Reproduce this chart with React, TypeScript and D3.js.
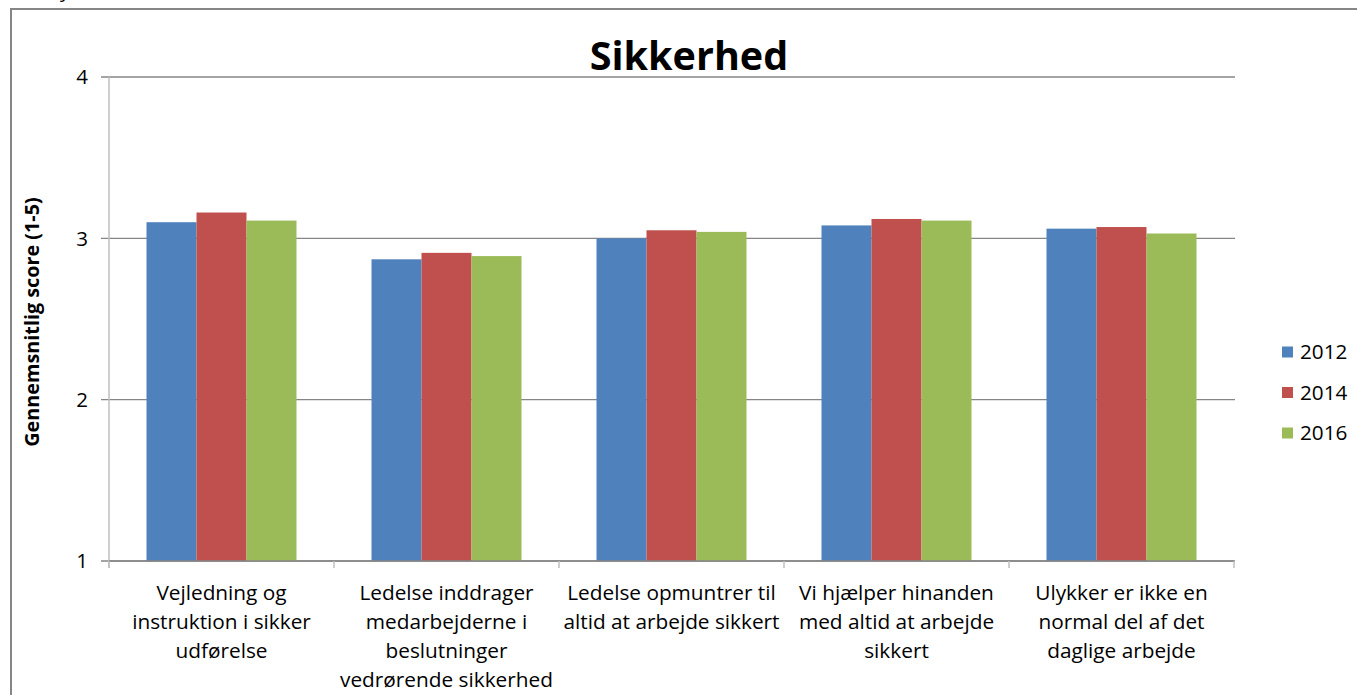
import * as d3 from "d3";

const categories = [
  "Vejledning og\ninstruktion i sikker\nudførelse",
  "Ledelse inddrager\nmedarbejderne i\nbeslutninger\nvedrørende sikkerhed",
  "Ledelse opmuntrer til\naltid at arbejde sikkert",
  "Vi hjælper hinanden\nmed altid at arbejde\nsikkert",
  "Ulykker er ikke en\nnormal del af det\ndaglige arbejde",
];
const years = ["2012", "2014", "2016"];
const values2012 = [3.1, 2.87, 3.0, 3.08, 3.06];
const values2014 = [3.16, 2.91, 3.05, 3.12, 3.07];
const values2016 = [3.11, 2.89, 3.04, 3.11, 3.03];
const yTicks = [1, 2, 3, 4];

const colors = ["#4F81BD", "#C0504D", "#9BBB59"];
const seriesValues = [values2012, values2014, values2016];

const W = 1357;
const H = 695;
const FONT = "'Open Sans', Lato, sans-serif";

export default function App() {
  const plot = { left: 109, right: 1234, top: 77, bottom: 561 };

  const x = d3
    .scaleBand<string>()
    .domain(categories)
    .range([plot.left, plot.right])
    .padding(0);

  const xInner = d3
    .scaleBand<string>()
    .domain(years)
    .range([0, x.bandwidth()])
    .paddingInner(0)
    .paddingOuter(0.75);

  const y = d3.scaleLinear().domain([1, 4]).range([plot.bottom, plot.top]);

  const boundaries = [...categories.map((c) => x(c)!), plot.right];

  return (
    <svg
      width={W}
      height={H}
      style={{ position: "absolute", left: 0, top: 0, background: "#fff" }}
      fontFamily={FONT}
    >
      {/* ramme */}
      <rect x={11} y={9} width={W + 20} height={H + 20} fill="#fff" stroke="#868686" strokeWidth={2} />
      <text x={60} y={-3} fontSize={20} fill="#000">
        y
      </text>

      {/* titel */}
      <text x={689} y={70} textAnchor="middle" fontSize={39.5} fontWeight="bold" fill="#000">
        Sikkerhed
      </text>

      {/* gitterlinjer */}
      {yTicks.map((t) => (
        <g key={t}>
          <line
            x1={plot.left - 8}
            x2={plot.right + 1}
            y1={y(t)}
            y2={y(t)}
            stroke="#868686"
            strokeWidth={1.3}
          />
          <text x={88} y={y(t)} dy="0.35em" textAnchor="end" fontSize={20.5} fill="#000">
            {t}
          </text>
        </g>
      ))}

      {/* y-akse */}
      <line x1={plot.left} x2={plot.left} y1={plot.top} y2={plot.bottom + 7} stroke="#BFBFBF" strokeWidth={1.5} />
      <text
        transform={`translate(39,322) rotate(-90)`}
        textAnchor="middle"
        fontSize={19.8}
        fontWeight="bold"
        fill="#000"
      >
        Gennemsnitlig score (1-5)
      </text>

      {/* søjler */}
      {categories.map((c, ci) => (
        <g key={c} transform={`translate(${x(c)},0)`}>
          {years.map((yr, si) => {
            const v = seriesValues[si][ci];
            return (
              <rect
                key={yr}
                x={xInner(yr)}
                y={y(v)}
                width={xInner.bandwidth()}
                height={y(1) - y(v)}
                fill={colors[si]}
              />
            );
          })}
        </g>
      ))}

      {/* x-akse */}
      <line x1={plot.left} x2={plot.right} y1={plot.bottom} y2={plot.bottom} stroke="#868686" strokeWidth={1.3} />
      {boundaries.map((b, i) => (
        <line key={i} x1={b} x2={b} y1={plot.bottom} y2={plot.bottom + 7} stroke="#BFBFBF" strokeWidth={1.5} />
      ))}
      {categories.map((c) => (
        <text key={c} textAnchor="middle" fontSize={20.8} fill="#000">
          {c.split("\n").map((line, li) => (
            <tspan key={li} x={x(c)! + x.bandwidth() / 2} y={600 + li * 29}>
              {line}
            </tspan>
          ))}
        </text>
      ))}

      {/* forklaring */}
      {years.map((yr, i) => (
        <g key={yr} transform={`translate(1282,${352 + i * 40.5})`}>
          <rect x={0} y={-5.5} width={11} height={11} fill={colors[i]} />
          <text x={18} y={0} dy="0.35em" fontSize={20.7} fill="#000">
            {yr}
          </text>
        </g>
      ))}
    </svg>
  );
}
